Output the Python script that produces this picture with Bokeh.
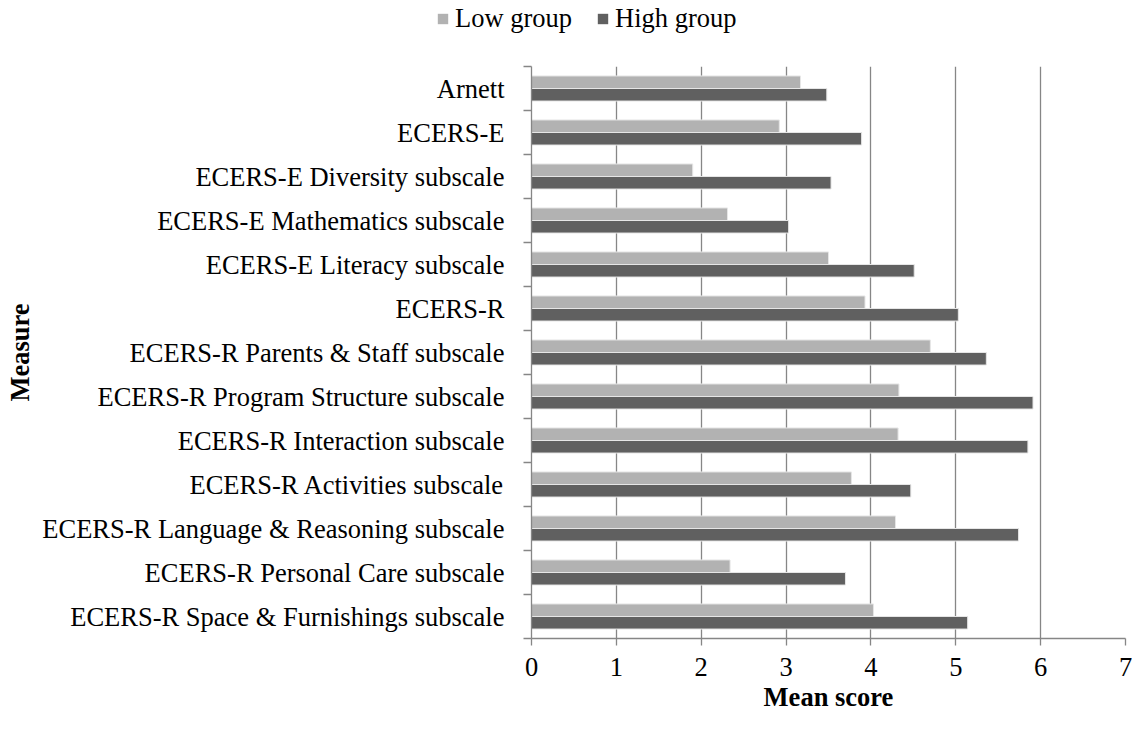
from bokeh.plotting import figure
from bokeh.layouts import column
from bokeh.models import FixedTicker, Legend, LegendItem, ColumnDataSource
from bokeh.embed import file_html
from bokeh.resources import INLINE

measures = [
    "Arnett",
    "ECERS-E",
    "ECERS-E Diversity subscale",
    "ECERS-E Mathematics subscale",
    "ECERS-E Literacy subscale",
    "ECERS-R",
    "ECERS-R Parents & Staff subscale",
    "ECERS-R Program Structure subscale",
    "ECERS-R Interaction subscale",
    "ECERS-R Activities subscale",
    "ECERS-R Language & Reasoning subscale",
    "ECERS-R Personal Care subscale",
    "ECERS-R Space & Furnishings subscale",
]
low_group = [3.17, 2.92, 1.90, 2.31, 3.50, 3.93, 4.70, 4.33, 4.32, 3.77, 4.29, 2.34, 4.03]
high_group = [3.48, 3.89, 3.53, 3.03, 4.51, 5.03, 5.36, 5.91, 5.85, 4.47, 5.74, 3.70, 5.14]
series_names = ["Low group", "High group"]
x_ticks = [0, 1, 2, 3, 4, 5, 6, 7]

FONT = "Liberation Serif"
FS = "26.5px"
LIGHT = "#b2b2b2"
DARK = "#606060"
GRID = "#868686"
W = 1132
H = 714
LEG_H = 37

n = len(measures)
centers = [n - i - 0.5 for i in range(n)]
bar_h = 0.285

src = ColumnDataSource(dict(
    name=measures,
    low=low_group,
    high=high_group,
    y_low=[c + bar_h / 2 for c in centers],
    y_high=[c - bar_h / 2 for c in centers],
))

# ---- legend strip (separate small figure above the chart) ----
lf = figure(width=W, height=LEG_H, x_range=(-2, -1), y_range=(0, n),
            x_axis_type=None, y_axis_type=None,
            output_backend="svg", toolbar_location=None,
            min_border=0)
lf.frame_align = False
lf.outline_line_color = None
lf.xgrid.visible = False
lf.ygrid.visible = False
g_low = lf.hbar(y="y_low", right="low", left=0, height=bar_h, source=src,
                fill_color=LIGHT, line_color=None)
g_high = lf.hbar(y="y_high", right="high", left=0, height=bar_h, source=src,
                 fill_color=DARK, line_color=None)
legend = Legend(items=[LegendItem(label=series_names[0], renderers=[g_low]),
                       LegendItem(label=series_names[1], renderers=[g_high])],
                orientation="horizontal", location=(436, 3),
                label_text_font=FONT, label_text_font_size=FS,
                label_text_color="black",
                glyph_width=13, glyph_height=13, label_standoff=6,
                spacing=24, padding=0, margin=0,
                border_line_color=None, background_fill_alpha=0)
lf.add_layout(legend, "center")

# ---- main chart ----
p = figure(width=W, height=H - LEG_H, x_range=(0, 7), y_range=(0, n),
           output_backend="svg", toolbar_location=None,
           min_border_left=531, min_border_right=7,
           min_border_top=66 - LEG_H, min_border_bottom=H - 640)
p.frame_align = False
p.outline_line_color = None
p.background_fill_color = "white"
p.border_fill_color = "white"

p.hbar(y="y_low", right="low", left=0, height=bar_h, source=src,
       fill_color=LIGHT, line_color="#e6e6e6", line_width=1)
p.hbar(y="y_high", right="high", left=0, height=bar_h, source=src,
       fill_color=DARK, line_color="#e6e6e6", line_width=1)

# x axis
p.xaxis.ticker = FixedTicker(ticks=x_ticks)
p.xaxis.axis_label = "Mean score"
p.xaxis.axis_label_text_font = FONT
p.xaxis.axis_label_text_font_size = FS
p.xaxis.axis_label_text_font_style = "bold"
p.xaxis.axis_label_text_color = "black"
p.xaxis.axis_label_standoff = 3
p.xaxis.major_label_text_font = FONT
p.xaxis.major_label_text_font_size = FS
p.xaxis.major_label_text_color = "black"
p.xaxis.major_label_standoff = 12
p.xaxis.axis_line_color = GRID
p.xaxis.axis_line_width = 1.3
p.xaxis.major_tick_line_color = GRID
p.xaxis.major_tick_line_width = 1.3
p.xaxis.major_tick_in = 0
p.xaxis.major_tick_out = 7
p.xaxis.minor_tick_line_color = None

# y axis: labels at category centers, ticks at category boundaries
p.yaxis.ticker = FixedTicker(ticks=centers, minor_ticks=list(range(n + 1)))
p.yaxis.major_label_overrides = {c: m for c, m in zip(centers, measures)}
p.yaxis.axis_label = "Measure"
p.yaxis.axis_label_text_font = FONT
p.yaxis.axis_label_text_font_size = FS
p.yaxis.axis_label_text_font_style = "bold"
p.yaxis.axis_label_text_color = "black"
p.yaxis.axis_label_standoff = 4
p.yaxis.major_label_text_font = FONT
p.yaxis.major_label_text_font_size = FS
p.yaxis.major_label_text_color = "black"
p.yaxis.major_label_standoff = 19
p.yaxis.axis_line_color = GRID
p.yaxis.axis_line_width = 1.3
p.yaxis.major_tick_line_color = None
p.yaxis.major_tick_in = 0
p.yaxis.major_tick_out = 0
p.yaxis.minor_tick_line_color = GRID
p.yaxis.minor_tick_line_width = 1.3
p.yaxis.minor_tick_in = 0
p.yaxis.minor_tick_out = 8

p.xgrid.grid_line_color = GRID
p.xgrid.grid_line_width = 1.3
p.ygrid.grid_line_color = None

layout = column(lf, p, spacing=0)
open("out.html", "w").write(file_html(layout, INLINE))
